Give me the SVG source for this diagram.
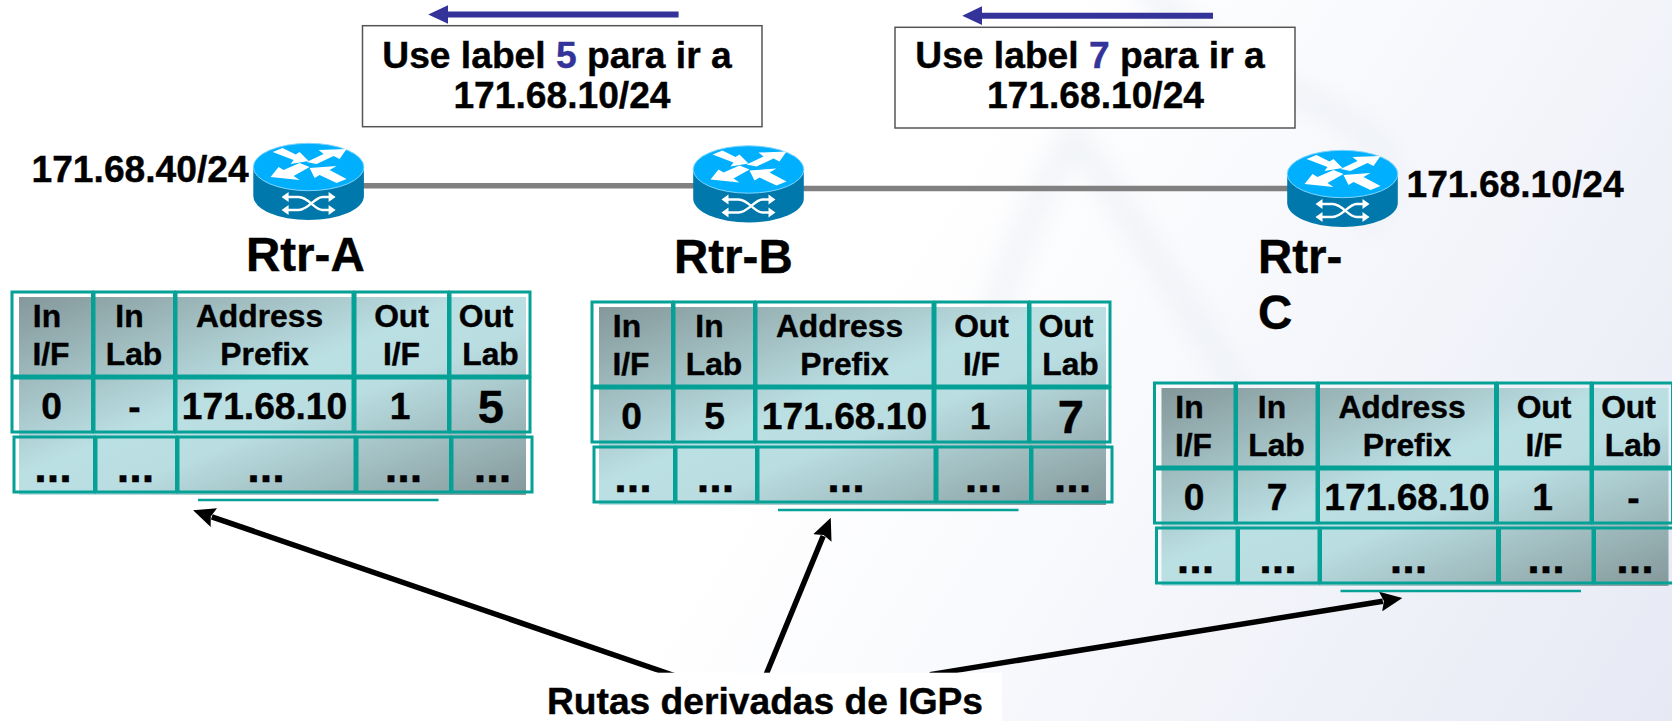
<svg xmlns="http://www.w3.org/2000/svg" width="1672" height="721" viewBox="0 0 1672 721">
<style>
text{font-family:"Liberation Sans",Arial,sans-serif;font-weight:700;fill:#000;stroke:#000;stroke-width:0.4px}
.h{font-size:31.8px;text-anchor:middle}
.v{font-size:37.2px;text-anchor:middle}
.b{font-size:47px;text-anchor:middle}
.d{font-size:45px;text-anchor:middle}
.n{font-size:47.500px}
.l{font-size:37.2px}
.c{font-size:37.2px;text-anchor:middle}
.blue{fill:#333399;stroke:#333399}
.cell{fill:none;stroke:#05a096;stroke-width:3}
.msg{fill:#fff;stroke:#555;stroke-width:1.5}
.link{stroke:#808080;stroke-width:5.5;fill:none}
.igp{stroke:#000;stroke-width:5.5;fill:none;marker-end:url(#ah)}
.adv{stroke:#333399;stroke-width:6;fill:none;marker-end:url(#bh)}
.ul{stroke:#05a096;stroke-width:2.6}
.w{fill:#fff}
.wl{stroke:#fff;stroke-width:2.4;fill:none}
</style>
<defs>
<linearGradient id="bg" gradientUnits="userSpaceOnUse" x1="850" y1="300" x2="1620" y2="800"><stop offset="0" stop-color="#fff"/><stop offset="0.3" stop-color="#f9fafd"/><stop offset="1" stop-color="#e6e9f4"/></linearGradient>
<linearGradient id="tg" x1="0" y1="0" x2="1" y2="1"><stop offset="0" stop-color="#84989a"/><stop offset="0.45" stop-color="#bbe0e4"/><stop offset="0.58" stop-color="#b9dde1"/><stop offset="1" stop-color="#84989a"/></linearGradient>
<filter id="soft" x="-20%" y="-20%" width="140%" height="140%"><feGaussianBlur stdDeviation="11"/></filter>
<marker id="ah" markerUnits="userSpaceOnUse" markerWidth="22" markerHeight="20" viewBox="0 0 20 18" refX="2" refY="9" orient="auto"><path d="M0 0L20 9L0 18L3 9Z" fill="#000"/></marker>
<marker id="bh" markerUnits="userSpaceOnUse" markerWidth="20" markerHeight="20" viewBox="0 0 18 18" refX="2" refY="9" orient="auto"><path d="M0 0.5L18 9L0 17.5Z" fill="#333399"/></marker>
<g id="router">
<path d="M-55.3 0V29A55.3 24 0 0 0 55.3 29V0Z" fill="#0078ab"/>
<ellipse cx="0" cy="0" rx="55.3" ry="23.7" fill="#00b0ff" stroke="#7fd4fb" stroke-width="1"/>
<path class="w" d="M-36-15L-26-19L-13-12.5L-9-15L0-6L-18-3L-15-7Z"/>
<path class="w" d="M-2-5L15-13L10-17L38-18L31-8L25-11L8-3Z"/>
<path class="w" d="M-38 10L-30 0L-25 3L-9-4L1 0L-15 9L-9 13Z"/>
<path class="w" d="M1 1L28-1L21 3L38 12L28 16L11 8L6 11Z"/>
<path class="wl" d="M-22 30H-10C0 30 6 43 14 43H24M-22 43H-10C0 43 6 30 14 30H24"/>
<path class="w" d="M-27 30L-20 25V35ZM-27 43L-20 38V48ZM27 30L20 25V35ZM27 43L20 38V48Z"/>
</g>
<g id="grid">
<rect x="19" y="297" width="507" height="198" fill="url(#tg)"/>
<rect class="cell" x="12" y="292" width="80.5" height="84"/><rect class="cell" x="94" y="292" width="80.5" height="84"/><rect class="cell" x="176" y="292" width="177" height="84"/><rect class="cell" x="355" y="292" width="93.500" height="84"/><rect class="cell" x="450" y="292" width="80" height="84"/>
<rect class="cell" x="12" y="378" width="80.5" height="54"/><rect class="cell" x="94" y="378" width="80.5" height="54"/><rect class="cell" x="176" y="378" width="177" height="54"/><rect class="cell" x="355" y="378" width="93.500" height="54"/><rect class="cell" x="450" y="378" width="80" height="54"/>
<rect class="cell" x="14" y="437" width="80.5" height="55"/><rect class="cell" x="96" y="437" width="80.5" height="55"/><rect class="cell" x="178" y="437" width="177" height="55"/><rect class="cell" x="357" y="437" width="93.500" height="55"/><rect class="cell" x="452" y="437" width="80" height="55"/>
<line class="ul" x1="198" y1="500" x2="438.500" y2="500"/>
</g>
<g id="head">
<text class="h" x="47" y="327">In</text><text class="h" x="51" y="364.500">I/F</text>
<text class="h" x="129.500" y="327">In</text><text class="h" x="134" y="364.500">Lab</text>
<text class="h" x="259.500" y="327">Address</text><text class="h" x="264.500" y="364.500">Prefix</text>
<text class="h" x="401.500" y="327">Out</text><text class="h" x="401.500" y="364.500">I/F</text>
<text class="h" x="486" y="327">Out</text><text class="h" x="490.500" y="364.500">Lab</text>
</g>
<g id="dots">
<text class="d" x="53" y="481.500">...</text><text class="d" x="135.500" y="481.500">...</text><text class="d" x="266" y="481.500">...</text><text class="d" x="403.500" y="481.500">...</text><text class="d" x="492.500" y="481.500">...</text>
</g>
</defs>

<rect width="1672" height="721" fill="url(#bg)"/>
<g filter="url(#soft)" fill="none" stroke="#e9edf3" stroke-width="26" opacity="0.55">
<path d="M985 345C1010 260 1040 190 1075 135C1130 220 1230 370 1310 500"/>
<path d="M1140 -20C1200 50 1270 80 1330 110C1380 140 1420 170 1360 230"/>
</g>

<g id="connectors">
<line class="link" x1="360" y1="185.700" x2="700" y2="185.700"/>
<line class="link" x1="800" y1="188.500" x2="1290" y2="188.500"/>
<line class="igp" x1="690" y1="681" x2="211.800" y2="516.800"/>
<line class="igp" x1="763" y1="682" x2="823.200" y2="536"/>
<line class="igp" x1="930" y1="674.600" x2="1382.800" y2="601.200"/>
<line class="adv" x1="678.600" y1="14.500" x2="446" y2="14.500"/>
<line class="adv" x1="1213" y1="15.700" x2="980" y2="15.700"/>
</g>

<g id="msg-ab">
<rect class="msg" x="362.500" y="25.700" width="399.500" height="101"/>
<text class="c" x="557" y="68">Use label <tspan class="blue">5</tspan> para ir a</text>
<text class="c" x="562" y="108">171.68.10/24</text>
</g>
<g id="msg-bc">
<rect class="msg" x="895" y="27.300" width="400" height="100.700"/>
<text class="c" x="1090" y="68">Use label <tspan class="blue">7</tspan> para ir a</text>
<text class="c" x="1095.500" y="108">171.68.10/24</text>
</g>

<g id="router-a">
<use href="#router" x="308.600" y="167"/>
<text class="l" x="31.500" y="182.300">171.68.40/24</text>
<text class="n" x="246" y="270.700">Rtr-A</text>
</g>
<g id="router-b">
<use href="#router" x="748.500" y="169.500"/>
<text class="n" x="674" y="272.700">Rtr-B</text>
</g>
<g id="router-c">
<use href="#router" x="1342.500" y="174"/>
<text class="l" x="1406.500" y="196.700">171.68.10/24</text>
<text class="n" x="1258" y="272.700">Rtr-</text>
<text class="n" x="1258" y="329">C</text>
</g>

<g id="table-a">
<use href="#grid"/><use href="#head"/><use href="#dots"/>
<text class="v" x="51.500" y="418.500">0</text><text class="v" x="134.500" y="418.500">-</text><text class="v" x="264.500" y="418.500">171.68.10</text><text class="v" x="400" y="418.500">1</text><text class="b" x="490.700" y="422.700">5</text>
</g>
<g id="table-b" transform="translate(580 10)">
<use href="#grid"/><use href="#head"/><use href="#dots"/>
<text class="v" x="51.500" y="418.500">0</text><text class="v" x="134.500" y="418.500">5</text><text class="v" x="264.500" y="418.500">171.68.10</text><text class="v" x="400" y="418.500">1</text><text class="b" x="490.700" y="422.700">7</text>
</g>
<g id="table-c" transform="translate(1142.500 91)">
<use href="#grid"/><use href="#head"/><use href="#dots"/>
<text class="v" x="51.500" y="418.500">0</text><text class="v" x="134.500" y="418.500">7</text><text class="v" x="264.500" y="418.500">171.68.10</text><text class="v" x="400" y="418.500">1</text><text class="v" x="491" y="418.500">-</text>
</g>

<g id="igp-label">
<rect x="530" y="672.700" width="472" height="48.300" fill="#fff"/>
<text class="c" x="765" y="714">Rutas derivadas de IGPs</text>
</g>
</svg>
